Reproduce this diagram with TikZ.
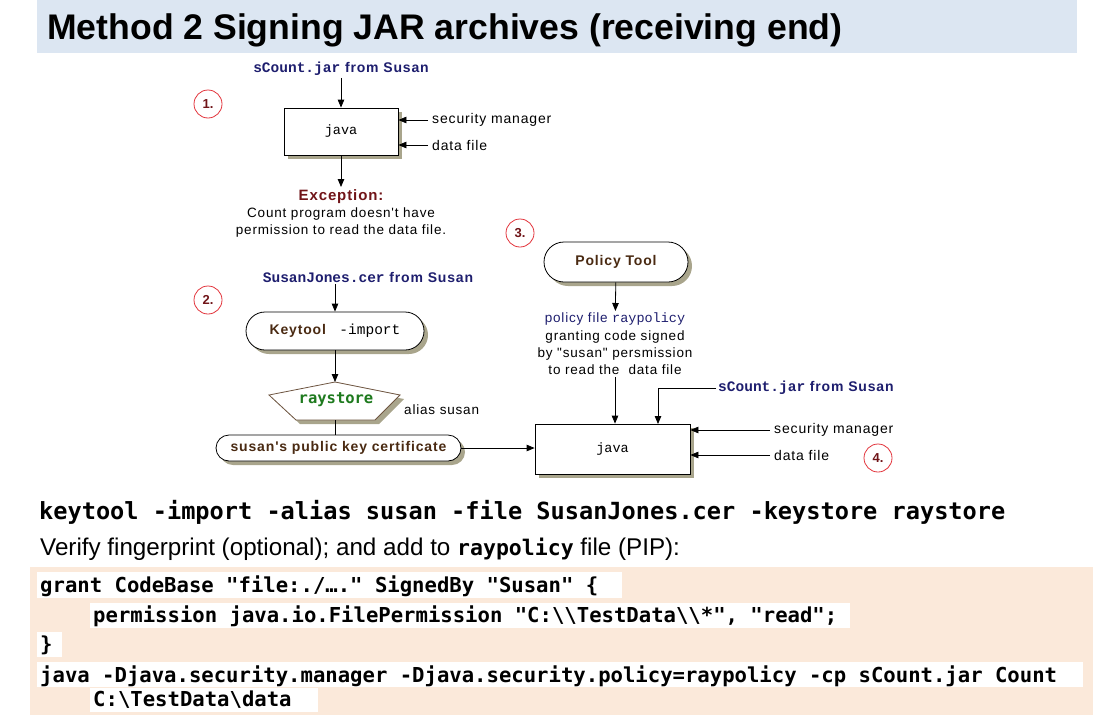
\documentclass[tikz,border=0pt]{standalone}
\usepackage{fontspec}
\setmainfont{Liberation Sans}
\newfontfamily\gifsans[LetterSpace=6]{Liberation Sans}
\newfontfamily\codefont{DejaVu Sans Mono}
\newfontfamily\javafont{Liberation Mono}
\usetikzlibrary{arrows.meta,shadows}

\definecolor{tituloazul}{HTML}{DCE6F2}
\definecolor{melocoton}{HTML}{FBE9DA}
\definecolor{marino}{HTML}{1E1E6E}
\definecolor{marron}{HTML}{4A2A12}
\definecolor{granate}{HTML}{701418}
\definecolor{verdeoscuro}{HTML}{1E7A1E}
\definecolor{sombra}{HTML}{A9A58C}
\definecolor{rojo}{HTML}{E2343C}

\newcommand{\fs}[1]{\fontsize{#1}{1.2\dimexpr#1pt\relax}\selectfont}

\begin{document}
\begin{tikzpicture}[x=1pt, y=-1pt,
    caja/.style={draw, fill=white, line width=0.8pt,
      general shadow={fill=sombra, shadow xshift=4pt, shadow yshift=-4pt}},
    javabox/.style={caja, inner sep=0pt, font=\javafont\fs{13.5}},
    pastilla/.style={caja, inner sep=0pt, font=\gifsans\bfseries\fs{14}, text=marron},
    paso/.style={circle, draw=rojo, line width=0.8pt, fill=white, minimum size=28pt,
      inner sep=0pt, text=granate, font=\bfseries\fs{13}},
    flecha/.style={-{Triangle[length=8pt,width=6.5pt]}, line width=0.8pt},
    etiqueta/.style={anchor=west, inner sep=4pt, font=\gifsans\fs{14}},
    origen/.style={inner sep=2pt, text=marino, font=\gifsans\bfseries\fs{14}},
    codigo/.style={anchor=base west, inner sep=0pt, font=\codefont\bfseries\fs{20.6}},
    fondo/.style={fill=white, draw=none}
  ]
  \useasboundingbox (0,0) rectangle (1107,715);

  % Banda del título
  \fill[tituloazul] (37,0) rectangle (1077,53);
  \node[anchor=base west, inner sep=0pt, font=\bfseries\fs{35.6}] (titulo) at (47,39)
    {Method 2 Signing JAR archives (receiving end)};

  % Paso 1: ejecución sin permiso
  \node[paso] (p1) at (208,104) {1.};
  \node[origen] (src1) at (341,69) {{\javafont\fs{14.5}sCount.jar} from Susan};
  \node[javabox, minimum width=114pt, minimum height=47pt] (java1) at (341,131.5) {java};
  \node[etiqueta] (secm1) at (428,120) {security manager};
  \node[etiqueta] (dat1) at (428,145) {data file};
  \node[align=center, anchor=north, inner sep=2pt, font=\gifsans\fs{13.5}] (exc) at (341,187)
    {\textcolor{granate}{\bfseries\fs{15}Exception:}\\[1pt]
     Count program doesn't have\\[1pt] permission to read the data file.};
  \draw[flecha] (src1) -- (java1);
  \draw[flecha] (secm1.west) -- (java1.east |- secm1.west);
  \draw[flecha] (dat1.west) -- (java1.east |- dat1.west);
  \draw[flecha] (java1) -- (exc);

  % Paso 2: importar el certificado
  \node[paso] (p2) at (208,300) {2.};
  \node[origen] (src2) at (368,277) {{\javafont\fs{14.5}SusanJones.cer} from Susan};
  \node[pastilla, minimum width=178pt, minimum height=38pt, rounded corners=19pt]
    (keytool) at (335,331) {Keytool \textcolor{black}{\mdseries\javafont\fs{14.5} -import}};
  \coordinate (rsTop) at (335,382);
  \coordinate (rsBot) at (335,420);
  \fill[sombra] ([shift={(4,4)}]rsTop) -- ++(-66,13) -- ++(27,25) -- ++(79,0) -- ++(25,-25) -- cycle;
  \draw[fill=white, draw=marron!80, line width=0.8pt]
    (rsTop) -- ++(-66,13) -- ++(27,25) -- ++(79,0) -- ++(25,-25) -- cycle;
  \node[inner sep=0pt, text=verdeoscuro, font=\codefont\bfseries\fs{15.5}] (raystore) at (336,400) {raystore};
  \node[etiqueta, inner sep=0pt, font=\gifsans\fs{13.5}] (alias) at (404,410) {alias susan};
  \node[pastilla, minimum width=245pt, minimum height=26pt, rounded corners=13pt]
    (cert) at (338.5,448) {susan's public key certificate};
  \draw[flecha] (src2.south -| keytool.north) -- (keytool.north);
  \draw[flecha] (keytool.south) -- (rsTop);
  \draw[line width=0.8pt] (rsBot) -- (rsBot |- cert.north);

  % Paso 3: fichero de política
  \node[paso] (p3) at (520,233) {3.};
  \node[pastilla, minimum width=144pt, minimum height=40pt, rounded corners=20pt]
    (policy) at (616,262) {Policy Tool};
  \node[align=center, anchor=north, inner sep=2pt, font=\gifsans\fs{13.5}] (poltxt) at (615,311)
    {\textcolor{marino}{policy file {\javafont raypolicy}}\\[1pt]
     granting code signed\\[1pt] by "susan" persmission\\[1pt] to read the\ \ data file};
  \draw[flecha] (policy) -- (poltxt);

  % Paso 4: ejecución con la política
  \node[paso] (p4) at (878,458) {4.};
  \node[javabox, minimum width=155pt, minimum height=50pt] (java2) at (612.5,449) {java};
  \node[origen, anchor=west] (src3) at (716,388) {{\javafont\fs{14.5}sCount.jar} from Susan};
  \coordinate (jarIn) at (658,424);
  \node[etiqueta] (secm2) at (770,430) {security manager};
  \node[etiqueta] (dat2) at (770,455) {data file};
  \draw[flecha] (poltxt.south) -- (poltxt.south |- java2.north);
  \draw[flecha] (src3.west) -| (jarIn);
  \draw[flecha] (secm2.west) -- (java2.east |- secm2.west);
  \draw[flecha] (dat2.west) -- (java2.east |- dat2.west);
  \draw[flecha] (cert.east) -- (java2.west |- cert.east);

  % Comandos
  \node[anchor=base west, inner sep=0pt, font=\codefont\bfseries\fs{23.6}] (cmd) at (39,519)
    {keytool -import -alias susan -file SusanJones.cer -keystore raystore};
  \node[anchor=base west, inner sep=0pt, font=\fs{24.2}] (verif) at (40,555)
    {Verify fingerprint (optional); and add to {\codefont\bfseries\fs{21.5}raypolicy} file (PIP):};

  % Bloque de política y línea de java
  \fill[melocoton] (30,567) rectangle (1093,715);
  \fill[fondo] (37,572) rectangle (622,598);
  \fill[fondo] (90,603) rectangle (850,628);
  \fill[fondo] (37,632) rectangle (62,657);
  \fill[fondo] (37,662) rectangle (1083,687);
  \fill[fondo] (90,688) rectangle (318,712);
  \node[codigo] (l1) at (40,592) {grant CodeBase "file:./…." SignedBy "Susan" \{};
  \node[codigo] (l2) at (93,622) {permission java.io.FilePermission "C:\textbackslash\textbackslash TestData\textbackslash\textbackslash*", "read";};
  \node[codigo] (l3) at (40,651) {\}};
  \node[codigo] (l4) at (40,682) {java -Djava.security.manager -Djava.security.policy=raypolicy -cp sCount.jar Count};
  \node[codigo] (l5) at (93,706) {C:\textbackslash TestData\textbackslash data};
\end{tikzpicture}
\end{document}
